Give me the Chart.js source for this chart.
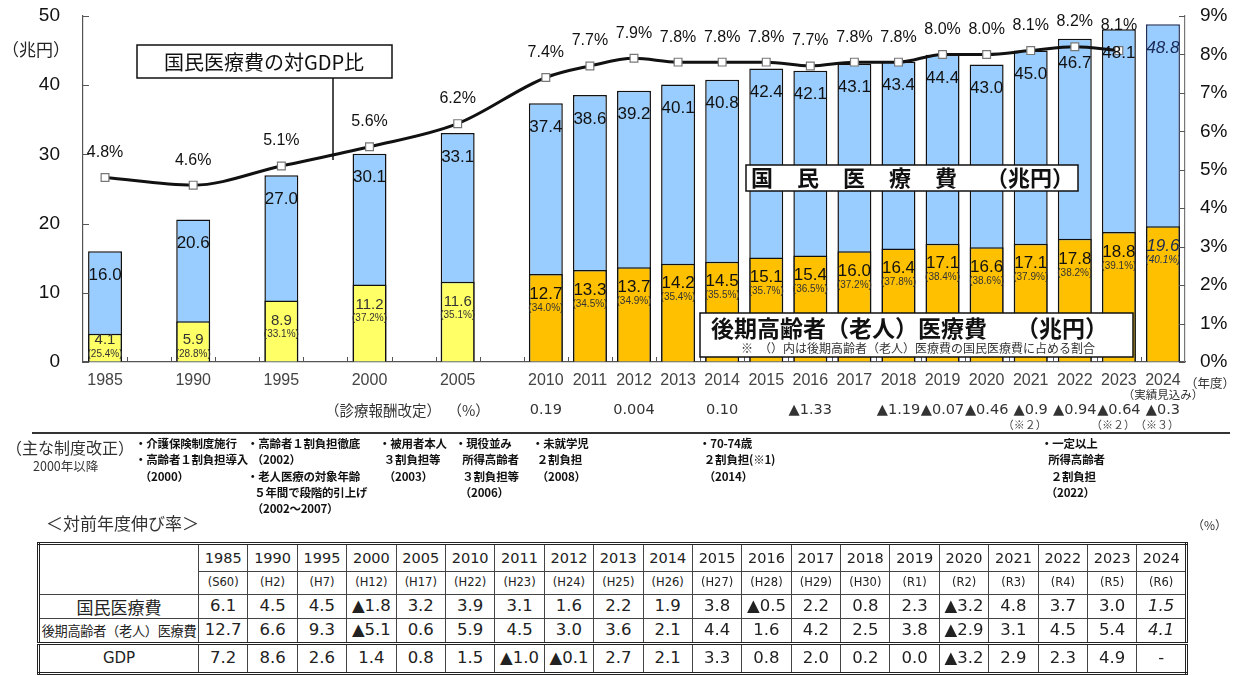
<!DOCTYPE html>
<html lang="ja">
<head>
<meta charset="utf-8">
<script src="https://cdn.jsdelivr.net/npm/chart.js@4.4.1/dist/chart.umd.min.js"></script>
<style>
  body { margin: 0; background: #fff; width: 1242px; height: 675px; overflow: hidden; position: relative;
         font-family: 'Noto Sans CJK JP', sans-serif; color: #222; }
  #chart { position: absolute; left: 0; top: 0; }
  .abs { position: absolute; white-space: pre; }
  .note { font-size: 11.5px; font-weight: bold; line-height: 16.3px; color: #111; letter-spacing: -0.2px; }
  #rule { position: absolute; left: 32px; top: 432px; width: 1198px; height: 2px; background: #333; }
  #tbl { position: absolute; left: 37px; top: 542px; width: 1151px; border-collapse: collapse; table-layout: fixed;
         border: 3px double #222; font-family: 'DejaVu Sans', sans-serif; }
  #tbl td { border: 1px solid #444; text-align: center; padding: 0; color: #222; overflow: hidden; white-space: nowrap;
            line-height: 1; }
  #tbl tr.yr td { height: 26px; font-size: 14.5px; }
  #tbl tr.era td { height: 22px; font-size: 11.5px; }
  #tbl tr.val td { height: 23px; font-size: 16.5px; }
  #tbl tr.gdp td { border-top: 3px double #222; height: 27px; }
  #tbl td.head { font-family: 'Noto Sans CJK JP', sans-serif; }
  #tbl td.it { font-style: italic; }
</style>
</head>
<body>
<canvas id="chart" width="1242" height="540"></canvas>

<div class="abs" style="left:325px; top:399px; font-size:14.5px; color:#333;">（診療報酬改定）  （%）</div>
<div id="rule"></div>
<div class="abs" style="left:6px; top:435px; font-size:16px; color:#333;">（主な制度改正）</div>
<div class="abs" style="left:33px; top:456px; font-size:12.5px; color:#333;">2000年以降</div>

<div class="abs note" style="left:135px; top:435px;">・介護保険制度施行
・高齢者１割負担導入
  （2000）</div>
<div class="abs note" style="left:247px; top:435px;">・高齢者１割負担徹底
  （2002）
・老人医療の対象年齢
   ５年間で段階的引上げ
  （2002～2007）</div>
<div class="abs note" style="left:379px; top:435px;">・被用者本人
  ３割負担等
  （2003）</div>
<div class="abs note" style="left:455px; top:435px;">・現役並み
   所得高齢者
   ３割負担等
  （2006）</div>
<div class="abs note" style="left:532px; top:435px;">・未就学児
  ２割負担
  （2008）</div>
<div class="abs note" style="left:699px; top:435px;">・70-74歳
  ２割負担(※1)
  （2014）</div>
<div class="abs note" style="left:1041px; top:435px;">・一定以上
   所得高齢者
    ２割負担
  （2022）</div>

<div class="abs" style="left:46px; top:510px; font-size:17px; color:#333;">＜対前年度伸び率＞</div>
<div class="abs" style="left:1192px; top:516px; font-size:12px; color:#333;">（%）</div>

<table id="tbl"></table>

<script>
// fiscal years (1985-2005 every five years, then yearly)
const years = ['1985', '1990', '1995', '2000', '2005', '2010', '2011', '2012', '2013', '2014',
  '2015', '2016', '2017', '2018', '2019', '2020', '2021', '2022', '2023', '2024'];
// national medical expenditure (trillion yen)
const totalCost = [16.0, 20.6, 27.0, 30.1, 33.1, 37.4, 38.6, 39.2, 40.1, 40.8,
  42.4, 42.1, 43.1, 43.4, 44.4, 43.0, 45.0, 46.7, 48.1, 48.8];
// late-stage elderly (elderly) medical expenditure (trillion yen)
const elderlyCost = [4.1, 5.9, 8.9, 11.2, 11.6, 12.7, 13.3, 13.7, 14.2, 14.5,
  15.1, 15.4, 16.0, 16.4, 17.1, 16.6, 17.1, 17.8, 18.8, 19.6];
// share of elderly expenditure in the total (%)
const elderlyShare = [25.4, 28.8, 33.1, 37.2, 35.1, 34.0, 34.5, 34.9, 35.4, 35.5,
  35.7, 36.5, 37.2, 37.8, 38.4, 38.6, 37.9, 38.2, 39.1, 40.1];
// national medical expenditure as % of GDP
const gdpRatio = [4.8, 4.6, 5.1, 5.6, 6.2, 7.4, 7.7, 7.9, 7.8, 7.8,
  7.8, 7.7, 7.8, 7.8, 8.0, 8.0, 8.1, 8.2, 8.1, null];

const leftTicks = [0, 10, 20, 30, 40, 50];
const rightTicks = [0, 1, 2, 3, 4, 5, 6, 7, 8, 9];

// medical fee revisions (%)
const revisionYears = ['2010', '2012', '2014', '2016', '2018', '2019', '2020', '2021', '2022', '2023', '2024'];
const revisionRates = ['0.19', '0.004', '0.10', '▲1.33', '▲1.19', '▲0.07', '▲0.46', '▲0.9', '▲0.94', '▲0.64', '▲0.3'];
const revisionNotes = ['', '', '', '', '', '', '', '（※２）', '', '（※２）', '（※３）'];

// year-on-year growth table
const eraLabels = ['(S60)', '(H2)', '(H7)', '(H12)', '(H17)', '(H22)', '(H23)', '(H24)', '(H25)', '(H26)',
  '(H27)', '(H28)', '(H29)', '(H30)', '(R1)', '(R2)', '(R3)', '(R4)', '(R5)', '(R6)'];
const growthTotal = ['6.1', '4.5', '4.5', '▲1.8', '3.2', '3.9', '3.1', '1.6', '2.2', '1.9',
  '3.8', '▲0.5', '2.2', '0.8', '2.3', '▲3.2', '4.8', '3.7', '3.0', '1.5'];
const growthElderly = ['12.7', '6.6', '9.3', '▲5.1', '0.6', '5.9', '4.5', '3.0', '3.6', '2.1',
  '4.4', '1.6', '4.2', '2.5', '3.8', '▲2.9', '3.1', '4.5', '5.4', '4.1'];
const growthGdp = ['7.2', '8.6', '2.6', '1.4', '0.8', '1.5', '▲1.0', '▲0.1', '2.7', '2.1',
  '3.3', '0.8', '2.0', '0.2', '0.0', '▲3.2', '2.9', '2.3', '4.9', '-'];

// the five-year steps take two slots each on the axis
const slots = [];
years.forEach(y => { slots.push(y); if (+y < 2010) slots.push(''); });
function toSlots(arr) {
  const out = [];
  years.forEach((y, i) => { out.push(arr[i]); if (+y < 2010) out.push(null); });
  return out;
}

const NUM = "'Liberation Sans', Arial, sans-serif";
const JP = "'Noto Sans CJK JP', sans-serif";

function txt(ctx, s, x, y, font, color, align) {
  ctx.font = font;
  ctx.fillStyle = color || '#111';
  ctx.textAlign = align || 'center';
  ctx.textBaseline = 'middle';
  ctx.fillText(s, x, y);
}

const overlay = {
  id: 'overlay',
  afterDatasetsDraw(chart) {
    const { ctx, chartArea: a, scales: { x, y, y1 } } = chart;
    ctx.save();

    // inward axis ticks
    ctx.strokeStyle = '#555';
    ctx.lineWidth = 1;
    leftTicks.forEach(v => {
      const py = Math.round(y.getPixelForValue(v)) + 0.5;
      ctx.beginPath(); ctx.moveTo(a.left, py); ctx.lineTo(a.left + 6, py); ctx.stroke();
    });
    rightTicks.forEach(v => {
      const py = Math.round(y1.getPixelForValue(v)) + 0.5;
      ctx.beginPath(); ctx.moveTo(a.right - 6, py); ctx.lineTo(a.right, py); ctx.stroke();
    });
    const cw = (a.right - a.left) / slots.length;
    for (let k = 1; k < slots.length; k++) {
      const px = Math.round(a.left + k * cw) + 0.5;
      ctx.beginPath(); ctx.moveTo(px, a.bottom); ctx.lineTo(px, a.bottom - 5); ctx.stroke();
    }

    // bar labels
    const mEld = chart.getDatasetMeta(1).data;
    const mTot = chart.getDatasetMeta(2).data;
    const mLine = chart.getDatasetMeta(0).data;
    slots.forEach((s, i) => {
      if (!s) return;
      const k = years.indexOf(s);
      const last = s === '2024';
      const it = last ? 'italic ' : '';
      const tb = mTot[i];
      txt(ctx, totalCost[k].toFixed(1), tb.x, tb.y + 24, it + '17px ' + NUM, last ? '#1a2a55' : '#111');
      const eb = mEld[i];
      const old = +s < 2010;
      const vy = Math.min(eb.y + 20, a.bottom - 22);
      txt(ctx, elderlyCost[k].toFixed(1), eb.x, vy, it + (old ? '15px ' : '17px ') + NUM, old ? '#333' : (last ? '#1a2a55' : '#111'));
      txt(ctx, '(' + elderlyShare[k].toFixed(1) + '%)', eb.x, vy + 14, it + '10px ' + NUM, last ? '#1a2a55' : '#333');
      if (gdpRatio[k] != null) {
        const p = mLine[i];
        txt(ctx, gdpRatio[k].toFixed(1) + '%', p.x, p.y - 25, '16px ' + NUM, '#111');
      }
    });

    // box: ratio to GDP
    ctx.lineWidth = 1.5;
    ctx.strokeStyle = '#111';
    ctx.fillStyle = '#fff';
    ctx.fillRect(137, 45, 255, 33); ctx.strokeRect(137, 45, 255, 33);
    txt(ctx, '国民医療費の対GDP比', 264, 62, '20px ' + JP, '#111');
    ctx.beginPath(); ctx.moveTo(333, 78); ctx.lineTo(333, 160); ctx.stroke();

    // box: national medical expenditure
    ctx.fillStyle = '#fff';
    ctx.fillRect(746, 165, 332, 26); ctx.strokeRect(746, 165, 332, 26);
    ['国', '民', '医', '療', '費'].forEach((c, j) => txt(ctx, c, 762 + 46 * j, 178, 'bold 22px ' + JP, '#111'));
    txt(ctx, '（兆円）', 1030, 178, 'bold 22px ' + JP, '#111');

    // box: elderly medical expenditure
    ctx.fillStyle = '#fff';
    ctx.fillRect(700, 313, 433, 44); ctx.strokeRect(700, 313, 433, 44);
    txt(ctx, '後期高齢者（老人）医療費', 711, 328, 'bold 23px ' + JP, '#111', 'left');
    txt(ctx, '（兆円）', 1062, 328, 'bold 23px ' + JP, '#111');
    txt(ctx, '※　（）内は後期高齢者（老人）医療費の国民医療費に占める割合', 918, 348, '12px ' + JP, '#333');

    // axis captions
    txt(ctx, '（兆円）', 36, 50, '17px ' + JP, '#222');
    txt(ctx, '（年度）', 1210, 383, '12.5px ' + JP, '#333');
    txt(ctx, '（実績見込み）', x.getPixelForValue(slots.indexOf('2024')), 395, '11.5px ' + JP, '#333');

    // fee revision row
    revisionYears.forEach((s, j) => {
      const px = x.getPixelForValue(slots.indexOf(s));
      txt(ctx, revisionRates[j], px, 410, '14.5px ' + "'DejaVu Sans', sans-serif", '#333');
      if (revisionNotes[j]) txt(ctx, revisionNotes[j], px - 6, 425, '11px ' + JP, '#444');
    });

    ctx.restore();
  }
};

// hidden tick marks push the labels away from the axis without adding top padding
const sideGrid = len => ({ display: true, drawOnChartArea: false, drawTicks: true, tickLength: len, color: 'rgba(0,0,0,0)' });

new Chart(document.getElementById('chart'), {
  type: 'bar',
  data: {
    labels: slots,
    datasets: [
      {
        type: 'line', label: '国民医療費の対GDP比', data: toSlots(gdpRatio), yAxisID: 'y1',
        borderColor: '#111', borderWidth: 3, cubicInterpolationMode: 'monotone', spanGaps: true,
        pointStyle: 'rect', pointRadius: 5.5, pointBackgroundColor: '#fff',
        pointBorderColor: '#777', pointBorderWidth: 1.2, order: 0
      },
      {
        label: '後期高齢者（老人）医療費', data: toSlots(elderlyCost), yAxisID: 'y',
        backgroundColor: slots.map(s => (s && +s < 2010) ? '#FFFF66' : '#FFC000'),
        borderColor: '#111', borderWidth: 1.5, grouped: false,
        barPercentage: 0.77, categoryPercentage: 1, order: 1
      },
      {
        label: '国民医療費', data: toSlots(totalCost), yAxisID: 'y',
        backgroundColor: '#99CCFF', borderColor: slots.map(s => s === '2024' ? '#1f2f55' : '#111'),
        borderWidth: 1.5, grouped: false,
        barPercentage: 0.77, categoryPercentage: 1, order: 2
      }
    ]
  },
  options: {
    responsive: false,
    animation: false,
    layout: { padding: { top: 16 } },
    plugins: { legend: { display: false }, tooltip: { enabled: false } },
    scales: {
      x: {
        grid: { display: false, drawTicks: false },
        border: { color: '#555', width: 1.2 },
        ticks: { autoSkip: false, maxRotation: 0, padding: 9, color: '#444', font: { family: NUM, size: 16 } },
        afterFit(s) { s.height = 540 - 362; }
      },
      y: {
        position: 'left', min: 0, max: 50,
        grid: sideGrid(22),
        border: { display: true, color: '#555', width: 1.2 },
        ticks: { stepSize: 10, padding: 1, color: '#111', font: { family: NUM, size: 19 } },
        afterFit(s) { s.width = 83; }
      },
      y1: {
        position: 'right', min: 0, max: 9,
        grid: sideGrid(14),
        border: { display: true, color: '#777', width: 1.2 },
        ticks: { stepSize: 1, padding: 1, color: '#111', font: { family: NUM, size: 19 }, callback: v => v + '%' },
        afterFit(s) { s.width = 1242 - 1185; }
      }
    }
  },
  plugins: [overlay]
});

// growth table
const tbl = document.getElementById('tbl');
let html = '<colgroup><col style="width:160px">' + years.map(() => '<col>').join('') + '</colgroup>';
html += '<tr class="yr"><td rowspan="2"></td>' + years.map(y => '<td>' + y + '</td>').join('') + '</tr>';
html += '<tr class="era">' + eraLabels.map(e => '<td>' + e + '</td>').join('') + '</tr>';
function row(cls, head, headStyle, vals) {
  return '<tr class="' + cls + '"><td class="head" style="' + headStyle + '">' + head + '</td>' +
    vals.map((v, i) => '<td class="' + (years[i] === '2024' && v !== '-' ? 'it' : '') + '">' + v + '</td>').join('') + '</tr>';
}
html += row('val', '国民医療費', 'font-size:17px', growthTotal);
html += row('val', '後期高齢者（老人）医療費', 'font-size:13.2px; letter-spacing:-0.3px', growthElderly);
html += row('val gdp', 'GDP', "font-size:15px; font-family:'DejaVu Sans'", growthGdp);
tbl.innerHTML = html;
</script>
</body>
</html>
